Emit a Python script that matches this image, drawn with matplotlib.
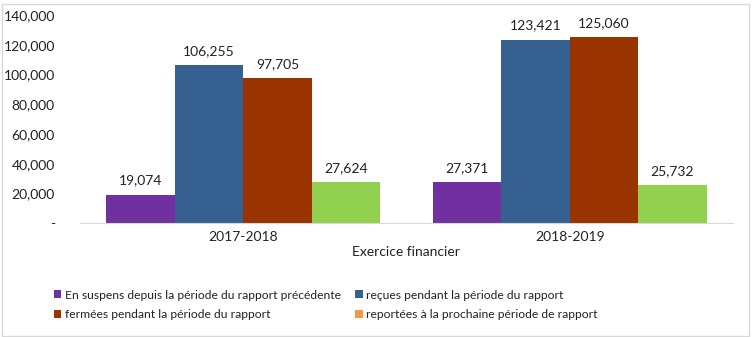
import matplotlib
matplotlib.use("Agg")
import matplotlib.pyplot as plt
from matplotlib.patches import Patch, Rectangle
import numpy as np

plt.rcParams["font.family"] = ["Lato", "DejaVu Sans"]

years = ["2017-2018", "2018-2019"]
series_names = [
    "En suspens depuis la période du rapport précédente",
    "reçues pendant la période du rapport",
    "fermées pendant la période du rapport",
    "reportées à la prochaine période de rapport",
]
en_suspens = [19074, 27371]
recues = [106255, 123421]
fermees = [97705, 125060]
reportees = [27624, 25732]

bar_colors = ["#7030A0", "#35608F", "#993300", "#92D050"]
legend_colors = ["#7030A0", "#35608F", "#993300", "#F79646"]

fig = plt.figure(figsize=(7.54, 3.37), dpi=100)
ax = fig.add_axes([0.106, 0.338, 0.866, 0.617])

x = np.arange(len(years))
w = 0.21
for k, vals in enumerate([en_suspens, recues, fermees, reportees]):
    pos = x + (k - 1.5) * w
    ax.bar(pos, vals, width=w, color=bar_colors[k], linewidth=0)
    for p, v in zip(pos, vals):
        ax.text(p, v + 5500, f"{v:,}", ha="center", va="bottom",
                fontsize=10, color="#222222")

ax.set_xlim(-0.5, 1.5)
ax.set_ylim(0, 140000)
ax.set_yticks(np.arange(0, 140001, 20000))
ax.set_yticklabels(["-"] + [f"{v:,}" for v in range(20000, 140001, 20000)])
ax.set_xticks(x)
ax.set_xticklabels(years)
ax.tick_params(length=0, labelsize=10, colors="#222222")
ax.tick_params(axis="y", pad=18)
ax.tick_params(axis="x", pad=6)
for s in ["top", "right", "left"]:
    ax.spines[s].set_visible(False)
ax.spines["bottom"].set_color("#D9D9D9")
ax.set_xlabel("Exercice financier", fontsize=10, color="#222222", labelpad=2)

# legend: two single-column legends placed side by side (row-wise order)
for cols, x0 in [((0, 2), 0.068), ((1, 3), 0.468)]:
    handles = [Patch(facecolor=legend_colors[i], edgecolor="none") for i in cols]
    labels = [series_names[i] for i in cols]
    lg = fig.legend(handles, labels, loc="upper left", ncol=1,
                    bbox_to_anchor=(x0, 0.148), frameon=False, fontsize=8.7,
                    handlelength=0.6, handleheight=0.6, handletextpad=0.3,
                    labelspacing=0.7, borderaxespad=0, borderpad=0.2)
    for t in lg.get_texts():
        t.set_color("#222222")

fig.patches.append(Rectangle((0.002, 0.004), 0.992, 0.985, transform=fig.transFigure,
                             fill=False, edgecolor="#D9D9D9", linewidth=1))

fig.savefig("out.png", dpi=100)
